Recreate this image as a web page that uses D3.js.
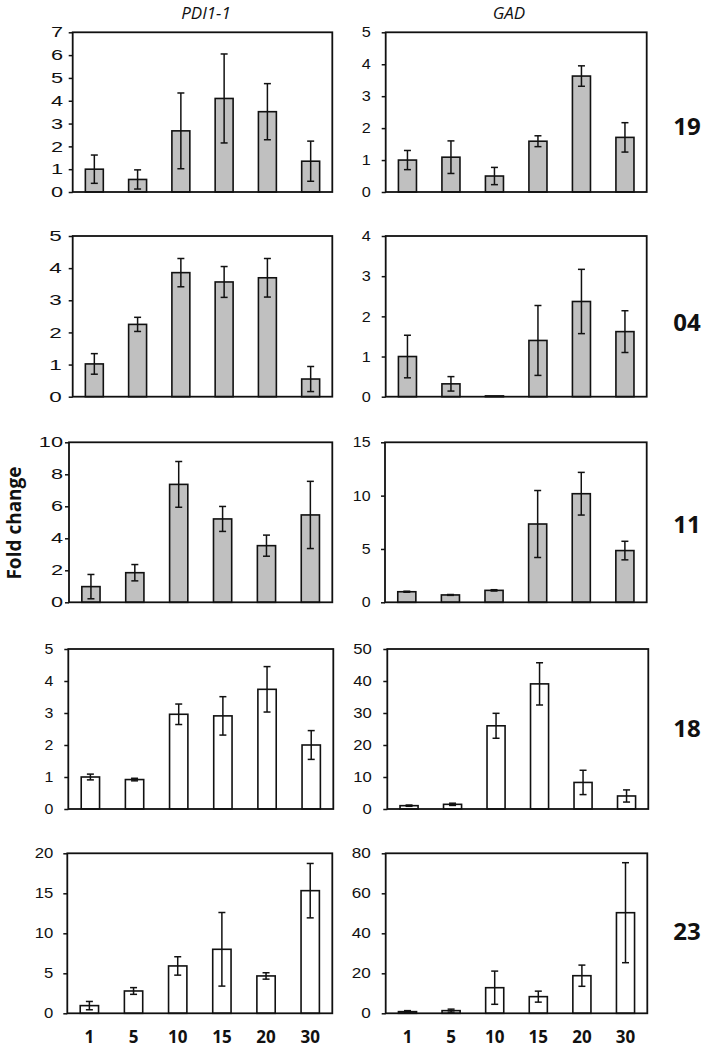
<!DOCTYPE html>
<html><head><meta charset="utf-8">
<script src="https://cdn.jsdelivr.net/npm/d3@7"></script>
<style>body{margin:0;background:#fff} svg{display:block}</style>
</head><body>
<svg id="c" width="702" height="1048"></svg>
<script>
// ---------- DATA ----------
const timepoints = ["1", "5", "10", "15", "20", "30"];
const genes = ["PDI1-1", "GAD"];
const lineIds = ["19", "04", "11", "18", "23"];

const pdiValues = [
  [1.0, 0.55, 2.68, 4.1, 3.52, 1.35],
  [1.02, 2.25, 3.86, 3.57, 3.70, 0.55],
  [0.98, 1.85, 7.37, 5.21, 3.54, 5.46],
  [1.0, 0.92, 2.96, 2.91, 3.74, 2.0],
  [0.96, 2.79, 5.92, 8.0, 4.67, 15.33]
];
const pdiErrors = [
  [0.62, 0.42, 1.66, 1.95, 1.23, 0.88],
  [0.32, 0.22, 0.44, 0.48, 0.6, 0.39],
  [0.76, 0.51, 1.43, 0.78, 0.66, 2.1],
  [0.09, 0.04, 0.32, 0.6, 0.71, 0.45],
  [0.52, 0.42, 1.15, 4.6, 0.4, 3.4]
];
const gadValues = [
  [1.0, 1.09, 0.5, 1.59, 3.63, 1.71],
  [1.0, 0.32, 0.02, 1.40, 2.37, 1.62],
  [0.99, 0.69, 1.12, 7.34, 10.18, 4.85],
  [1.04, 1.46, 26.0, 39.1, 8.3, 4.07],
  [0.83, 1.33, 12.8, 8.33, 18.8, 50.3]
];
const gadErrors = [
  [0.3, 0.51, 0.27, 0.17, 0.32, 0.46],
  [0.53, 0.18, 0.0, 0.87, 0.8, 0.52],
  [0.05, 0.04, 0.06, 3.14, 2.0, 0.87],
  [0.2, 0.35, 3.9, 6.6, 3.8, 1.9],
  [0.5, 0.75, 8.3, 2.75, 5.3, 25]
];
const pdiMax = [7, 5, 10, 5, 20];
const pdiStep = [1, 1, 2, 1, 5];
const gadMax = [5, 4, 15, 50, 80];
const gadStep = [1, 1, 5, 10, 20];

// ---------- LAYOUT ----------
const rowTop = [32.3, 236, 442.3, 649, 853.3];
const rowBottom = [192, 396.7, 602.3, 809, 1013.3];
const leftX = [[72.7, 332.3], [72.7, 332.3], [69, 332.3], [68.3, 333.3], [67.3, 332.3]];
const rightX = [[385.7, 646.7], [385.7, 646.7], [385, 646.7], [387.3, 648.3], [385.7, 647.3]];
const labelGap = [[9.5, 15], [11, 15], [6, 14.5], [15, 15.5], [14, 15]];
const labelStretch = [[1.5, 1.12], [1.55, 1.12], [1.5, 1.1], [1.1, 1.15], [1.15, 1.18]];
const rowLabelY = [126.5, 322, 524, 728, 931];
const fills = ["#c0c0c0", "#c0c0c0", "#c0c0c0", "#ffffff", "#ffffff"];

const svg = d3.select("#c");

lineIds.forEach((id, r) => {
  [0, 1].forEach(gi => {
    const xr = gi === 0 ? leftX[r] : rightX[r];
    const vals = gi === 0 ? pdiValues[r] : gadValues[r];
    const errs = gi === 0 ? pdiErrors[r] : gadErrors[r];
    const ymax = gi === 0 ? pdiMax[r] : gadMax[r];
    const step = gi === 0 ? pdiStep[r] : gadStep[r];
    const top = rowTop[r], bottom = rowBottom[r];

    const x = d3.scaleBand().domain(timepoints).range(xr)
      .paddingInner(0.585).paddingOuter(0.2925);
    const y = d3.scaleLinear().domain([0, ymax]).range([bottom, top]);

    const g = svg.append("g");
    const data = timepoints.map((t, i) => ({t, v: vals[i], e: errs[i]}));

    g.selectAll("rect.bar").data(data).join("rect")
      .attr("class", "bar")
      .attr("x", d => x(d.t))
      .attr("width", x.bandwidth())
      .attr("y", d => y(d.v))
      .attr("height", d => y(0) - y(d.v))
      .attr("fill", fills[r])
      .attr("stroke", "#111")
      .attr("stroke-width", 1.6);

    const eb = g.selectAll("g.err").data(data.filter(d => d.e > 0)).join("g").attr("class", "err")
      .attr("stroke", "#111").attr("stroke-width", 1.5);
    const cx = d => x(d.t) + x.bandwidth() / 2;
    eb.append("line").attr("x1", cx).attr("x2", cx)
      .attr("y1", d => y(d.v - d.e)).attr("y2", d => y(d.v + d.e));
    eb.append("line").attr("x1", d => cx(d) - 3.5).attr("x2", d => cx(d) + 3.5)
      .attr("y1", d => y(d.v + d.e)).attr("y2", d => y(d.v + d.e));
    eb.append("line").attr("x1", d => cx(d) - 3.5).attr("x2", d => cx(d) + 3.5)
      .attr("y1", d => y(d.v - d.e)).attr("y2", d => y(d.v - d.e));

    // frame
    g.append("rect")
      .attr("x", xr[0]).attr("y", top)
      .attr("width", xr[1] - xr[0]).attr("height", bottom - top)
      .attr("fill", "none").attr("stroke", "#111").attr("stroke-width", 1.8);

    // y axis
    const gap = labelGap[r][gi], s = labelStretch[r][gi];
    const ticks = d3.range(0, ymax + step / 2, step);
    const ax = g.append("g").attr("transform", `translate(${xr[0]},0)`)
      .call(d3.axisLeft(y).tickValues(ticks).tickSizeInner(4).tickSizeOuter(0).tickFormat(d3.format("d")));
    ax.select(".domain").remove();
    ax.selectAll(".tick line").attr("stroke", "#111").attr("stroke-width", 1.5);
    ax.selectAll(".tick text")
      .attr("x", -gap / s)
      .attr("transform", `scale(${s},1)`)
      .attr("fill", "#111")
      .style("font-family", "'Liberation Sans', Arial, sans-serif")
      .style("font-size", "14.5px");

    // category labels on bottom row
    if (r === lineIds.length - 1) {
      const bx = g.append("g").attr("transform", `translate(0,${bottom})`)
        .call(d3.axisBottom(x).tickSize(0).tickPadding(18));
      bx.select(".domain").remove();
      bx.selectAll(".tick text")
        .attr("fill", "#111")
        .style("font-family", "'Open Sans', sans-serif")
        .style("font-weight", "700")
        .style("font-size", "17px");
    }

    // gene titles
    if (r === 0) {
      svg.append("text")
        .attr("x", gi === 0 ? 206 : 509).attr("y", 18.6)
        .attr("text-anchor", "middle")
        .style("font-family", "'Open Sans', sans-serif")
        .style("font-style", "italic")
        .style("font-size", "17px")
        .attr("fill", "#111")
        .text(genes[gi]);
    }
  });

  svg.append("text")
    .attr("x", 687).attr("y", rowLabelY[r])
    .attr("dy", "0.36em")
    .attr("text-anchor", "middle")
    .style("font-family", "'Open Sans', sans-serif")
    .style("font-weight", "700")
    .style("font-size", "24px")
    .attr("fill", "#111")
    .text(id);
});

svg.append("text")
  .attr("transform", "translate(21,523) rotate(-90)")
  .attr("text-anchor", "middle")
  .style("font-family", "'Open Sans', sans-serif")
  .style("font-weight", "700")
  .style("font-size", "19px")
  .attr("fill", "#111")
  .text("Fold change");
</script>
</body></html>
